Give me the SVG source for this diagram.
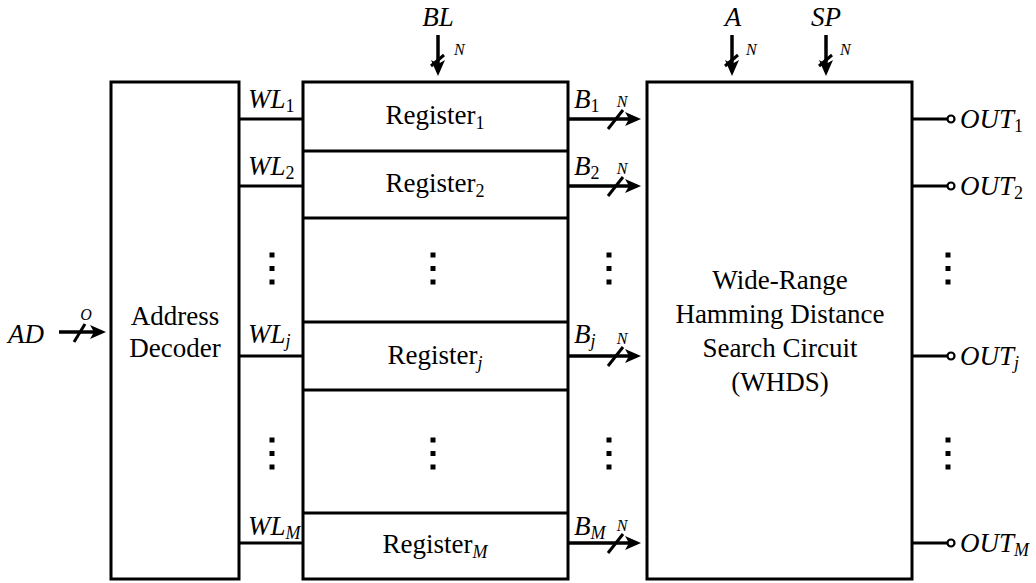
<svg xmlns="http://www.w3.org/2000/svg" width="1036" height="583" viewBox="0 0 1036 583" font-family="Liberation Serif, Times New Roman, Times, serif">
<style>
.box{fill:#fff;stroke:#000;stroke-width:3}
.ln{stroke:#000;stroke-width:3;fill:none}
.ar{stroke:#000;stroke-width:3.5;fill:none}
.sl{stroke:#000;stroke-width:3;fill:none}
.t{font-size:27px;fill:#000}
.i{font-size:27px;font-style:italic;fill:#000}
.n{font-size:16px;font-style:italic;fill:#000}
.dot{fill:#000}
</style>
<defs>
<marker id="ah" viewBox="0 0 16 14" refX="12" refY="7" markerWidth="16" markerHeight="14" markerUnits="userSpaceOnUse" orient="auto">
<path d="M0,0 L16,7 L0,14 L4,7 Z" fill="#000"/>
</marker>
<g id="dots"><rect x="-2.5" y="-2.5" width="5" height="5" class="dot"/><rect x="-2.5" y="11" width="5" height="5" class="dot"/><rect x="-2.5" y="24.5" width="5" height="5" class="dot"/></g>
</defs>
<rect width="1036" height="583" fill="#fff"/>

<g id="decoder">
<rect class="box" x="111" y="82" width="128" height="497"/>
<text class="t" x="175" y="325" text-anchor="middle" font-family="Liberation Serif">Address</text>
<text class="t" x="175" y="357" text-anchor="middle" font-family="Liberation Serif">Decoder</text>
</g>

<g id="registers">
<rect class="box" x="303" y="82" width="265" height="497"/>
<line class="ln" x1="303" y1="151" x2="568" y2="151"/>
<line class="ln" x1="303" y1="218" x2="568" y2="218"/>
<line class="ln" x1="303" y1="322" x2="568" y2="322"/>
<line class="ln" x1="303" y1="390" x2="568" y2="390"/>
<line class="ln" x1="303" y1="513" x2="568" y2="513"/>
<g id="register1"><text class="t" x="435" y="124" text-anchor="middle">Register<tspan font-size="18" dy="5">1</tspan></text></g>
<g id="register2"><text class="t" x="435" y="192" text-anchor="middle">Register<tspan font-size="18" dy="5">2</tspan></text></g>
<g id="registerj"><text class="t" x="435" y="364" text-anchor="middle">Register<tspan font-size="18" dy="5" font-style="italic">j</tspan></text></g>
<g id="registerM"><text class="t" x="435" y="553" text-anchor="middle">Register<tspan font-size="18" dy="5" font-style="italic">M</tspan></text></g>
<use href="#dots" x="433" y="255"/>
<use href="#dots" x="433" y="440"/>
</g>

<g id="whds">
<rect class="box" x="647" y="82" width="265" height="497"/>
<text class="t" x="780" y="289" text-anchor="middle">Wide-Range</text>
<text class="t" x="780" y="323" text-anchor="middle">Hamming Distance</text>
<text class="t" x="780" y="357" text-anchor="middle">Search Circuit</text>
<text class="t" x="780" y="391" text-anchor="middle">(WHDS)</text>
</g>

<g id="connectors">
<line class="ln" x1="239" y1="119" x2="303" y2="119"/>
<line class="ln" x1="239" y1="186" x2="303" y2="186"/>
<line class="ln" x1="239" y1="356" x2="303" y2="356"/>
<line class="ln" x1="239" y1="543" x2="303" y2="543"/>
<text class="i" x="248" y="108">WL<tspan font-size="18" dy="4" font-style="normal">1</tspan></text>
<text class="i" x="248" y="175">WL<tspan font-size="18" dy="4" font-style="normal">2</tspan></text>
<text class="i" x="248" y="343">WL<tspan font-size="18" dy="4">j</tspan></text>
<text class="i" x="248" y="535">WL<tspan font-size="18" dy="4">M</tspan></text>
<use href="#dots" x="272" y="255"/>
<use href="#dots" x="272" y="440"/>

<line class="ar" x1="568" y1="119" x2="637" y2="119" marker-end="url(#ah)"/>
<line class="ar" x1="568" y1="186" x2="637" y2="186" marker-end="url(#ah)"/>
<line class="ar" x1="568" y1="356" x2="637" y2="356" marker-end="url(#ah)"/>
<line class="ar" x1="568" y1="543" x2="637" y2="543" marker-end="url(#ah)"/>
<line class="sl" x1="608" y1="129" x2="623" y2="110"/>
<line class="sl" x1="608" y1="196" x2="623" y2="177"/>
<line class="sl" x1="608" y1="366" x2="623" y2="347"/>
<line class="sl" x1="608" y1="553" x2="623" y2="534"/>
<text class="i" x="574" y="108">B<tspan font-size="18" dy="4" font-style="normal">1</tspan></text>
<text class="i" x="574" y="175">B<tspan font-size="18" dy="4" font-style="normal">2</tspan></text>
<text class="i" x="574" y="343">B<tspan font-size="18" dy="4">j</tspan></text>
<text class="i" x="574" y="535">B<tspan font-size="18" dy="4">M</tspan></text>
<text class="n" x="622" y="107" text-anchor="middle">N</text>
<text class="n" x="622" y="174" text-anchor="middle">N</text>
<text class="n" x="622" y="344" text-anchor="middle">N</text>
<text class="n" x="622" y="531" text-anchor="middle">N</text>
<use href="#dots" x="609" y="255"/>
<use href="#dots" x="609" y="440"/>

<line class="ar" x1="438" y1="35" x2="438" y2="72" marker-end="url(#ah)"/>
<line class="sl" x1="431" y1="66" x2="444" y2="55"/>
<text class="i" x="438" y="26" text-anchor="middle">BL</text>
<text class="n" x="454" y="55">N</text>

<line class="ar" x1="732" y1="35" x2="732" y2="72" marker-end="url(#ah)"/>
<line class="sl" x1="725" y1="66" x2="738" y2="55"/>
<text class="i" x="733" y="26" text-anchor="middle">A</text>
<text class="n" x="746" y="55">N</text>

<line class="ar" x1="826" y1="35" x2="826" y2="72" marker-end="url(#ah)"/>
<line class="sl" x1="819" y1="66" x2="832" y2="55"/>
<text class="i" x="826" y="26" text-anchor="middle">SP</text>
<text class="n" x="840" y="55">N</text>

<line class="ar" x1="59" y1="332" x2="102" y2="332" marker-end="url(#ah)"/>
<line class="sl" x1="74" y1="342" x2="85" y2="324"/>
<text class="i" x="8" y="343">AD</text>
<text class="n" x="86" y="320" text-anchor="middle">O</text>

<line class="ln" x1="912" y1="119" x2="947" y2="119"/>
<line class="ln" x1="912" y1="186" x2="947" y2="186"/>
<line class="ln" x1="912" y1="356" x2="947" y2="356"/>
<line class="ln" x1="912" y1="543" x2="947" y2="543"/>
<circle cx="951" cy="119" r="3.5" fill="#fff" stroke="#000" stroke-width="2.2"/>
<circle cx="951" cy="186" r="3.5" fill="#fff" stroke="#000" stroke-width="2.2"/>
<circle cx="951" cy="356" r="3.5" fill="#fff" stroke="#000" stroke-width="2.2"/>
<circle cx="951" cy="543" r="3.5" fill="#fff" stroke="#000" stroke-width="2.2"/>
<text class="i" x="960" y="128">OUT<tspan font-size="18" dy="4" font-style="normal">1</tspan></text>
<text class="i" x="960" y="195">OUT<tspan font-size="18" dy="4" font-style="normal">2</tspan></text>
<text class="i" x="960" y="365">OUT<tspan font-size="18" dy="4">j</tspan></text>
<text class="i" x="960" y="552">OUT<tspan font-size="18" dy="4">M</tspan></text>
<use href="#dots" x="948" y="255"/>
<use href="#dots" x="948" y="440"/>
</g>
</svg>
